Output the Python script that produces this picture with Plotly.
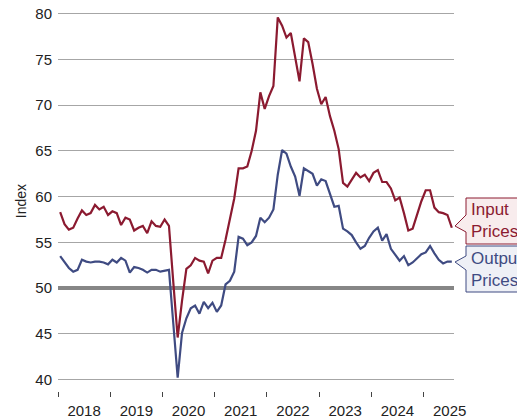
import plotly.graph_objects as go

# Monthly index values, Jan 2018 .. Jul 2025 (x = months since Jan 2018, mid-month)
input_prices = [
    58.3, 57.0, 56.4, 56.6, 57.6, 58.5, 58.0, 58.2, 59.1, 58.6, 58.9, 58.0,
    58.4, 58.2, 56.9, 57.7, 57.5, 56.3, 56.6, 56.8, 56.0, 57.3, 56.8, 56.7,
    57.5, 56.8, 50.6, 44.6, 48.6, 52.1, 52.5, 53.3, 53.0, 52.9, 51.6, 53.0,
    53.3, 53.3, 55.3, 57.5, 59.8, 63.1, 63.1, 63.3, 65.0, 67.2, 71.4, 69.6,
    71.0, 72.1, 79.6, 78.7, 77.4, 77.9, 75.0, 72.6, 77.3, 76.9, 74.5, 71.8,
    70.1, 70.9, 68.8, 67.2, 65.2, 61.5, 61.1, 61.8, 62.6, 62.1, 62.4, 61.7,
    62.6, 62.9, 61.6, 61.6, 60.9, 59.6, 59.9, 58.2, 56.3, 56.5, 58.0, 59.5,
    60.7, 60.7, 58.8, 58.3, 58.2, 58.0, 56.6,
]
output_prices = [
    53.5, 52.8, 52.2, 51.8, 52.0, 53.1, 52.9, 52.8, 52.9, 52.9, 52.8, 52.6,
    53.1, 52.8, 53.3, 53.0, 51.7, 52.3, 52.2, 52.0, 51.7, 52.0, 52.0, 51.8,
    51.9, 52.0, 46.1, 40.2, 45.1, 46.7, 47.8, 48.1, 47.2, 48.5, 47.8, 48.4,
    47.4, 48.1, 50.4, 50.8, 51.8, 55.6, 55.4, 54.7, 55.0, 55.7, 57.7, 57.2,
    57.7, 58.6, 62.4, 65.1, 64.7, 63.3, 62.2, 60.1, 63.1, 62.8, 62.5, 61.2,
    61.9, 61.7, 60.2, 58.9, 59.0, 56.5, 56.2, 55.8, 55.0, 54.3, 54.6, 55.5,
    56.2, 56.6, 55.2, 55.9, 54.3, 53.7, 53.0, 53.5, 52.5, 52.8, 53.2, 53.7,
    53.9, 54.6, 53.8, 53.1, 52.7, 52.9, 52.9,
]
years = ['2018', '2019', '2020', '2021', '2022', '2023', '2024', '2025']
y_ticks = [40, 45, 50, 55, 60, 65, 70, 75, 80]
threshold = 50

months = [i + 0.5 for i in range(len(input_prices))]
year_mid = [12 * k + 6 for k in range(len(years))]
x_range = [0, 91]

red = '#8b1a30'
blue = '#3f4b82'
font = 'Arial, Liberation Sans, sans-serif'

# page body has an 8px margin, so the figure is a bit smaller than the window
OFF = 8
W, H = 525 - OFF, 419 - OFF
L, R, T, B = 50, 71, 3, 28
pw, ph = W - L - R, H - T - B


def px(x):  # page pixel -> paper x
    return (x - OFF - L) / pw


def py(y):  # page pixel -> paper y
    return (H - B - (y - OFF)) / ph


fig = go.Figure()
# thick reference line at 50 (as a trace so it sits above the gridlines)
fig.add_trace(go.Scatter(x=x_range, y=[threshold, threshold], mode='lines',
                         line=dict(color='#868686', width=4), hoverinfo='skip'))
fig.add_trace(go.Scatter(x=months, y=output_prices, mode='lines', name='Output Prices',
                         line=dict(color=blue, width=2.2)))
fig.add_trace(go.Scatter(x=months, y=input_prices, mode='lines', name='Input Prices',
                         line=dict(color=red, width=2.2)))


# callout boxes at the right
def callout(top, bottom, j1, tip, j2, edge, fill):
    l, r = px(466), px(524)
    path = (f'M {l} {py(top)} L {r} {py(top)} L {r} {py(bottom)} L {l} {py(bottom)} '
            f'L {l} {py(j2)} L {px(455)} {py(tip)} L {l} {py(j1)} Z')
    fig.add_shape(type='path', xref='paper', yref='paper', path=path,
                  line=dict(color=edge, width=1), fillcolor=fill, layer='above')


callout(198, 244, 215, 226, 232, red, '#f8eced')
callout(246, 292, 256, 262, 270, blue, '#eef0f6')

fig.add_annotation(xref='paper', yref='paper', x=px(469), y=py(221), text='Input<br>Prices',
                   showarrow=False, xanchor='left', yanchor='middle', align='left',
                   font=dict(family=font, size=17, color=red))
fig.add_annotation(xref='paper', yref='paper', x=px(469), y=py(269), text='Output<br>Prices',
                   showarrow=False, xanchor='left', yanchor='middle', align='left',
                   font=dict(family=font, size=17, color=blue))

fig.update_layout(
    width=W, height=H,
    margin=dict(l=L, r=R, t=T, b=B),
    paper_bgcolor='white', plot_bgcolor='white',
    showlegend=False,
    font=dict(family=font, size=15, color='#222222'),
)
fig.update_xaxes(
    range=x_range, tickvals=year_mid, ticktext=years, ticks='', showgrid=False,
    zeroline=False, showline=False, ticklabelstandoff=9, automargin=False,
    minor=dict(ticks='outside', tick0=0, dtick=12, ticklen=5, tickcolor='#444444',
               tickwidth=1, showgrid=False),
    tickfont=dict(size=15),
)
fig.update_yaxes(
    range=[38.75, 80.3], tickvals=y_ticks, showgrid=True, gridcolor='#a6a6a6',
    gridwidth=1.3, zeroline=False, showline=False, ticks='', ticklabelstandoff=5,
    automargin=False, ticklabeloverflow='allow',
    title=dict(text='Index', standoff=5, font=dict(size=14)), tickfont=dict(size=15),
)

fig.write_html('out.html')
